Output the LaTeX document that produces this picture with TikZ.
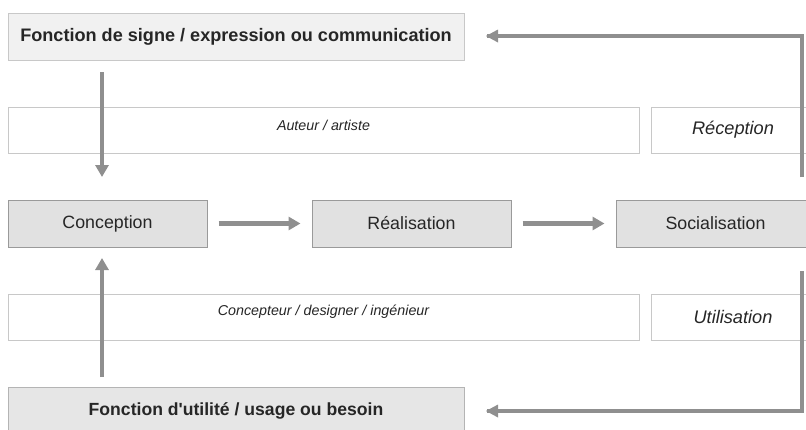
\documentclass[tikz,border=0pt]{standalone}
\usepackage{fontspec}
\setmainfont{Liberation Sans}
\usetikzlibrary{arrows.meta}
\definecolor{arrowgray}{HTML}{8F8F8F}
\definecolor{boxgray}{HTML}{E1E1E1}
\definecolor{boxedge}{HTML}{9A9A9A}
\definecolor{lightfill}{HTML}{F1F1F1}
\definecolor{lightedge}{HTML}{C8C8C8}
\tikzset{
  funcbox/.style={draw=lightedge, fill=lightfill, line width=1pt, inner sep=0pt, font=\fontsize{18.1}{21}\selectfont\bfseries, text=black!85},
  stagebox/.style={draw=boxedge, fill=boxgray, line width=1pt, inner sep=0pt, font=\fontsize{17.8}{20}\selectfont, text=black!85},
  rolebox/.style={draw=lightedge, fill=white, line width=1pt, inner sep=0pt},
  rolelabel/.style={font=\fontsize{14.3}{17}\selectfont\itshape, text=black!85},
  modebox/.style={draw=lightedge, fill=white, line width=1pt, inner sep=0pt, font=\fontsize{18.2}{21}\selectfont\itshape, text=black!85},
  flow/.style={draw=arrowgray, line width=4.8pt, -{Triangle[length=12pt,width=13pt]}},
}
\begin{document}
\begin{tikzpicture}[x=1pt,y=-1pt]
\useasboundingbox (0,0) rectangle (806,429);
\clip (0,0) rectangle (806,429);
% function boxes
\node[funcbox, minimum width=456pt, minimum height=47pt] (signe) at (236,36.5) {Fonction de signe / expression ou communication};
\node[funcbox, font=\fontsize{17.6}{21}\selectfont\bfseries, fill=boxgray!85, draw=lightedge!90!black, minimum width=456pt, minimum height=47pt] (utilite) at (236,410.5) {Fonction d\textquotesingle utilit\'e / usage ou besoin};
% role boxes
\node[rolebox, minimum width=631pt, minimum height=46pt,
  label={[rolelabel, yshift=5pt]center:Auteur / artiste}] (auteur) at (323.5,130) {};
\node[rolebox, minimum width=631pt, minimum height=46pt,
  label={[rolelabel, yshift=5pt]center:Concepteur / designer / ing\'enieur}] (concepteur) at (323.5,317) {};
\node[modebox, minimum width=164pt, minimum height=46pt] (reception) at (733,130) {R\'eception};
\node[modebox, minimum width=164pt, minimum height=46pt] (utilisation) at (733,317) {Utilisation};
% stage boxes
\node[stagebox, minimum width=199pt, minimum height=47pt] (conception) at (107.5,223.5) {Conception};
\node[stagebox, minimum width=199pt, minimum height=47pt] (realisation) at (411.5,223.5) {R\'ealisation};
\node[stagebox, minimum width=199pt, minimum height=47pt] (socialisation) at (715.5,223.5) {Socialisation};
% connector ends
\coordinate (downstart) at (102,72);
\coordinate (downend) at (102,177);
\coordinate (upstart) at (102,377);
\coordinate (upend) at (102,258);
\coordinate (topstart) at (802,177);
\coordinate (topcorner) at (802,36);
\coordinate (topend) at (487,36);
\coordinate (botstart) at (802,271);
\coordinate (botcorner) at (802,411);
\coordinate (botend) at (487,411);
% arrows
\draw[flow] (downstart) -- (downend);
\draw[flow] (upstart) -- (upend);
\draw[flow, shorten <=11pt, shorten >=11pt] (conception.east) -- (realisation.west);
\draw[flow, shorten <=11pt, shorten >=11pt] (realisation.east) -- (socialisation.west);
\draw[flow, -, line join=miter] (topstart) -- (topcorner) -- (topend);
\draw[draw=none, fill=arrowgray] (topend) ++(-1,0) -- ++(12,-6.5) -- ++(0,13) -- cycle;
\draw[flow, -, line join=miter] (botstart) -- (botcorner) -- (botend);
\draw[draw=none, fill=arrowgray] (botend) ++(-1,0) -- ++(12,-6.5) -- ++(0,13) -- cycle;
\end{tikzpicture}
\end{document}
